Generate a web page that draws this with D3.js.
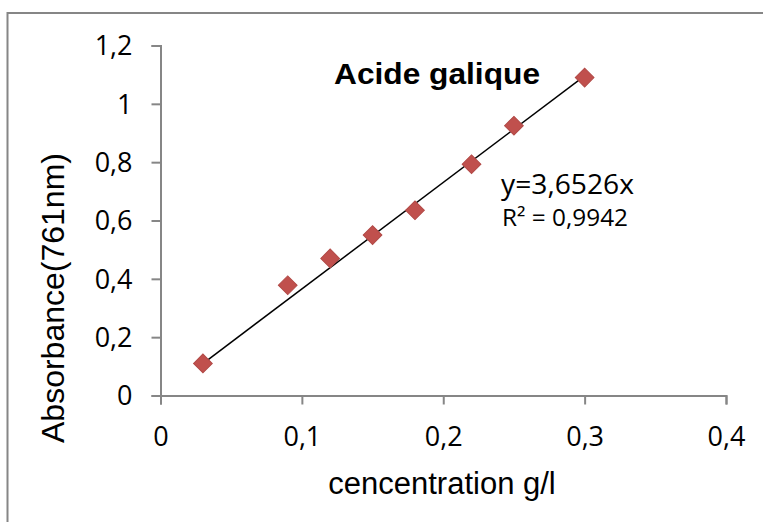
<!DOCTYPE html>
<html>
<head>
<meta charset="utf-8">
<script src="https://cdn.jsdelivr.net/npm/d3@7"></script>
<style>
  body { margin: 0; background: #fff; }
  svg { display: block; }
</style>
</head>
<body>
<script>
// data
var concentration = [0.03, 0.09, 0.12, 0.15, 0.18, 0.22, 0.25, 0.30];
var absorbance = [0.11, 0.378, 0.47, 0.55, 0.635, 0.793, 0.925, 1.09];
var slope = 3.6526;
var xTicks = [0, 0.1, 0.2, 0.3, 0.4];
var xTickLabels = ["0", "0,1", "0,2", "0,3", "0,4"];
var yTicks = [0, 0.2, 0.4, 0.6, 0.8, 1, 1.2];
var yTickLabels = ["0", "0,2", "0,4", "0,6", "0,8", "1", "1,2"];

var screen = { width: 763, height: 522 };
var axisColor = "#868686";

var svg = d3.select("body")
            .append("svg")
            .attr("width", screen.width)
            .attr("height", screen.height);

// chart area border (runs off the right and bottom edge)
svg.append("rect")
   .attr("x", 7.5)
   .attr("y", 13)
   .attr("width", 800)
   .attr("height", 560)
   .attr("fill", "none")
   .attr("stroke", axisColor)
   .attr("stroke-width", 2);

var xScale = d3.scaleLinear()
               .domain([0, 0.4])
               .range([160.5, 726]);

var yScale = d3.scaleLinear()
               .domain([0, 1.2])
               .range([395.5, 45.5]);

// y axis
var yAxis = d3.axisLeft(yScale)
              .tickValues(yTicks)
              .tickSize(9)
              .tickSizeOuter(9)
              .tickFormat(function(d, i) { return yTickLabels[i]; });

var gy = svg.append("g")
            .attr("class", "yAxis")
            .attr("transform", "translate(" + xScale(0) + ",0)")
            .call(yAxis);

// x axis
var xAxis = d3.axisBottom(xScale)
              .tickValues(xTicks)
              .tickSize(9)
              .tickSizeOuter(9)
              .tickFormat(function(d, i) { return xTickLabels[i]; });

var gx = svg.append("g")
            .attr("class", "xAxis")
            .attr("transform", "translate(0," + yScale(0) + ")")
            .call(xAxis);

[gx, gy].forEach(function(g) {
  g.selectAll("path, line")
   .attr("stroke", axisColor)
   .attr("stroke-width", 2);
  g.selectAll("text")
   .attr("fill", "#000")
   .style("font-family", "'Open Sans', sans-serif")
   .style("font-size", "27px");
});

gx.selectAll(".tick text").attr("dy", null).attr("y", 50);
gy.selectAll(".tick text").attr("x", -28).attr("dy", "0.35em");

// trend line y = 3.6526x
var trend = [concentration[0], concentration[concentration.length - 1]];
var line = d3.line()
             .x(function(d) { return xScale(d); })
             .y(function(d) { return yScale(slope * d); });

svg.append("path")
   .datum(trend)
   .attr("d", line)
   .attr("fill", "none")
   .attr("stroke", "#000")
   .attr("stroke-width", 1.5);

// diamond markers
var diamond = d3.symbol().type(d3.symbolSquare).size(175);

svg.append("g")
   .attr("class", "dots")
   .selectAll("path")
   .data(concentration)
   .enter()
   .append("path")
   .attr("d", diamond)
   .attr("transform", function(d, i) {
     return "translate(" + xScale(d) + "," + yScale(absorbance[i]) + ") rotate(45)";
   })
   .attr("fill", "#C0504D")
   .attr("stroke", "#B24A47")
   .attr("stroke-width", 1);

// trend line label
svg.append("text")
   .attr("x", 501)
   .attr("y", 194)
   .attr("textLength", 133)
   .attr("lengthAdjust", "spacingAndGlyphs")
   .style("font-family", "'Open Sans', sans-serif")
   .style("font-size", "28px")
   .text("y=3,6526x");

svg.append("text")
   .attr("x", 502)
   .attr("y", 226)
   .attr("textLength", 126)
   .attr("lengthAdjust", "spacingAndGlyphs")
   .style("font-family", "'Open Sans', sans-serif")
   .style("font-size", "23px")
   .text("R² = 0,9942");

// chart title
svg.append("text")
   .attr("x", 334)
   .attr("y", 84)
   .attr("textLength", 206)
   .attr("lengthAdjust", "spacingAndGlyphs")
   .style("font-family", "'Liberation Sans', Arial, sans-serif")
   .style("font-weight", "bold")
   .style("font-size", "30px")
   .text("Acide galique");

// axis titles
svg.append("text")
   .attr("x", 442)
   .attr("y", 494)
   .attr("text-anchor", "middle")
   .style("font-family", "'Liberation Sans', Arial, sans-serif")
   .style("font-size", "31px")
   .text("cencentration g/l");

svg.append("text")
   .attr("transform", "translate(64," + 298 + ") rotate(-90)")
   .attr("text-anchor", "middle")
   .style("font-family", "'Liberation Sans', Arial, sans-serif")
   .style("font-size", "32px")
   .text("Absorbance(761nm)");
</script>
</body>
</html>
